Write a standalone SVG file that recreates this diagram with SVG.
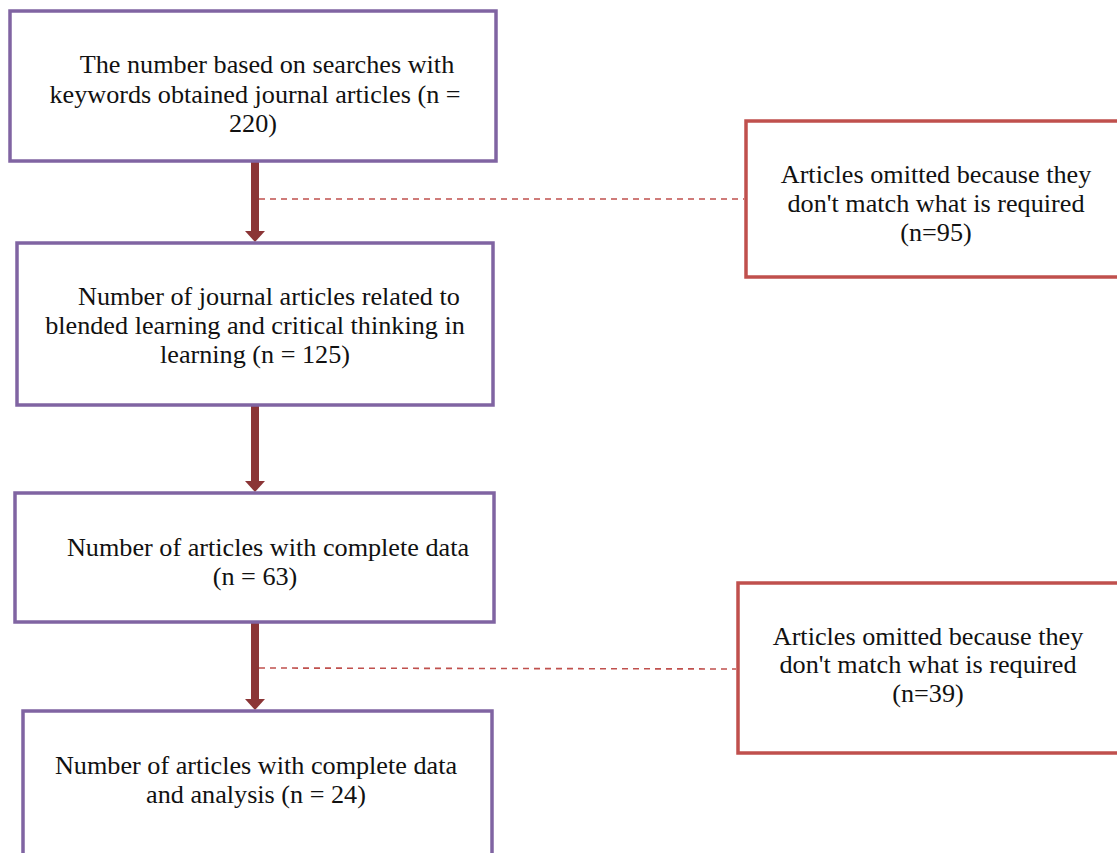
<svg xmlns="http://www.w3.org/2000/svg" width="1117" height="853" viewBox="0 0 1117 853">
<defs>
<style>
.pb{fill:#fff;stroke:#8064A2;stroke-width:3.5}
.rb{fill:#fff;stroke:#C0504D;stroke-width:3.5}
.t{font-family:'Liberation Serif','Times New Roman',Times,serif;font-size:26.2px;fill:#111;text-anchor:middle}
.arr{stroke:#8B3536;stroke-width:8;fill:none}
.dash{stroke:#C0504D;stroke-width:1.6;stroke-dasharray:6,5;fill:none}
</style>
</defs>
<rect width="1117" height="853" fill="#fff"/>
<g id="connectors">
<line class="arr" x1="255" y1="161" x2="255" y2="232"/>
<path d="M245,231 L265,231 L255,242 Z" fill="#8B3536"/>
<line class="arr" x1="255" y1="405" x2="255" y2="482"/>
<path d="M245,481 L265,481 L255,492 Z" fill="#8B3536"/>
<line class="arr" x1="255" y1="622" x2="255" y2="700"/>
<path d="M245,699 L265,699 L255,710 Z" fill="#8B3536"/>
<line class="dash" x1="259" y1="199" x2="744" y2="199"/>
<line class="dash" x1="259" y1="668" x2="736" y2="669"/>
</g>
<g id="n1">
<rect class="pb" x="10" y="11" width="486" height="150"/>
<text class="t" font-family="Liberation Serif, serif"><tspan x="267" y="73">The number based on searches with</tspan><tspan x="255" y="103">keywords obtained journal articles (n =</tspan><tspan x="253" y="132">220)</tspan></text>
</g>
<g id="n2">
<rect class="pb" x="17" y="243" width="476" height="162"/>
<text class="t" font-family="Liberation Serif, serif"><tspan x="269" y="305">Number of journal articles related to</tspan><tspan x="255" y="334">blended learning and critical thinking in</tspan><tspan x="255" y="363">learning (n = 125)</tspan></text>
</g>
<g id="n3">
<rect class="pb" x="15" y="493" width="479" height="129"/>
<text class="t" font-family="Liberation Serif, serif"><tspan x="268" y="556">Number of articles with complete data</tspan><tspan x="255" y="585">(n = 63)</tspan></text>
</g>
<g id="n4">
<rect class="pb" x="23" y="711" width="469" height="150"/>
<text class="t" font-family="Liberation Serif, serif"><tspan x="256" y="774">Number of articles with complete data</tspan><tspan x="256" y="803">and analysis (n = 24)</tspan></text>
</g>
<g id="r1">
<rect class="rb" x="746" y="121" width="380" height="156"/>
<text class="t" font-family="Liberation Serif, serif"><tspan x="936" y="183">Articles omitted because they</tspan><tspan x="936" y="212">don't match what is required</tspan><tspan x="936" y="241">(n=95)</tspan></text>
</g>
<g id="r2">
<rect class="rb" x="738" y="583" width="388" height="170"/>
<text class="t" font-family="Liberation Serif, serif"><tspan x="928" y="645">Articles omitted because they</tspan><tspan x="928" y="673">don't match what is required</tspan><tspan x="928" y="702">(n=39)</tspan></text>
</g>
</svg>
